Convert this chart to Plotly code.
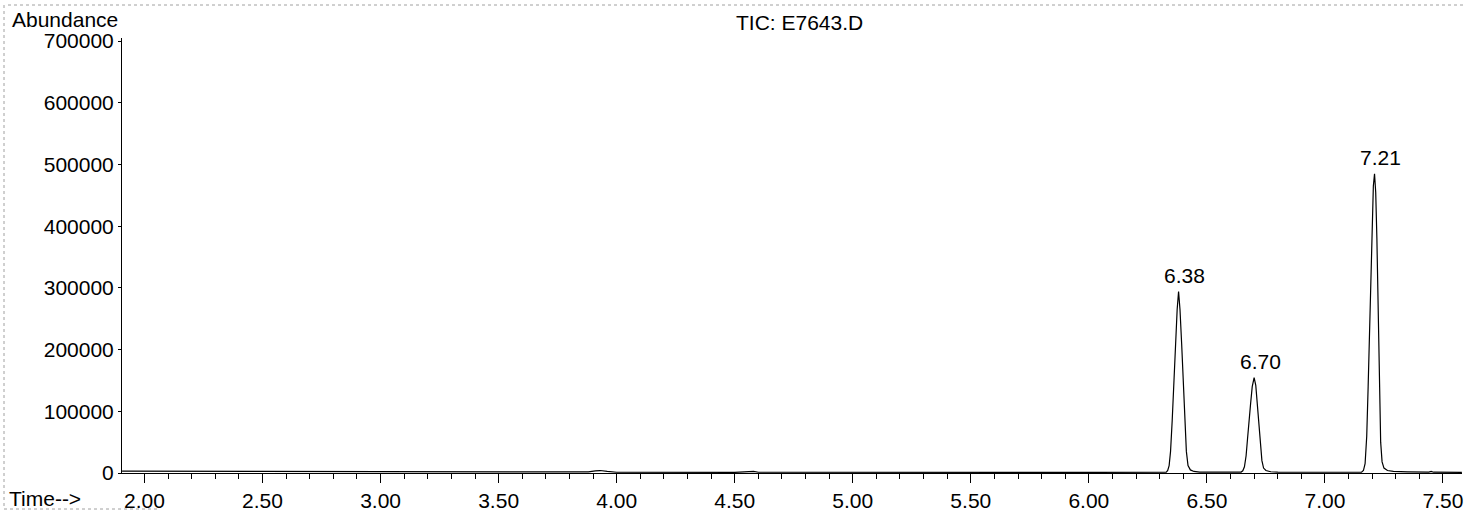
import plotly.graph_objects as go

# ---- data ----
time_min = [
    1.905, 2.00, 2.50, 3.00, 3.50, 3.88, 3.91, 3.93, 3.96, 4.00,
    4.50, 4.56, 4.58, 4.60, 5.00, 5.50, 6.00,
    # peak 6.38
    6.328, 6.334, 6.340, 6.346, 6.353, 6.360, 6.367, 6.374, 6.380, 6.386,
    6.393, 6.400, 6.407, 6.413, 6.420, 6.430, 6.445, 6.470,
    # peak 6.70
    6.645, 6.652, 6.659, 6.666, 6.672, 6.678, 6.685, 6.692, 6.700, 6.707,
    6.714, 6.721, 6.727, 6.733, 6.740, 6.750, 6.770, 6.800,
    # peak 7.21
    7.155, 7.163, 7.170, 7.177, 7.183, 7.189, 7.194, 7.200, 7.205, 7.210,
    7.215, 7.220, 7.226, 7.231, 7.236, 7.242, 7.250, 7.265, 7.290, 7.350,
    7.440, 7.450, 7.460, 7.580,
]
abundance = [
    3000, 2800, 2500, 2200, 2000, 1800, 3500, 4000, 2500, 1200,
    1000, 1300, 2500, 1200, 800, 800, 900,
    1500, 4000, 12000, 35000, 85000, 147000, 210000, 265000, 294000, 265000,
    210000, 147000, 80000, 35000, 12000, 5000, 2500, 1500,
    1500, 3500, 10000, 28000, 55000, 77000, 112000, 140000, 154500, 142000,
    112000, 77000, 45000, 20000, 8000, 4000, 2000, 1500,
    1200, 4000, 15000, 60000, 140000, 240000, 330000, 420000, 465000, 485000,
    455000, 380000, 250000, 130000, 50000, 18000, 8000, 4000, 2500, 1800,
    1400, 2600, 1300, 1000,
]
peak_times = [6.38, 6.70, 7.21]
peak_heights = [294000, 154500, 485000]
peak_labels = ["6.38", "6.70", "7.21"]

y_tickvals = [0, 100000, 200000, 300000, 400000, 500000, 600000, 700000]
x_tickvals = [2.00, 2.50, 3.00, 3.50, 4.00, 4.50, 5.00, 5.50, 6.00, 6.50, 7.00, 7.50]
x_ticktext = ["2.00", "2.50", "3.00", "3.50", "4.00", "4.50", "5.00", "5.50",
              "6.00", "6.50", "7.00", "7.50"]

FONT = "Liberation Sans, Arial, sans-serif"
FS = 21

W, H = 1464, 511
L, R, T, B = 122, 2, 38, 38
pw, ph = W - L - R, H - T - B


def px(xp):
    return (xp - L) / pw


def py(yp):
    return (H - B - yp) / ph


fig = go.Figure()
fig.add_trace(go.Scatter(
    x=time_min, y=abundance, mode="lines",
    line=dict(color="black", width=1.2), hoverinfo="skip", showlegend=False,
))

for t, h, lab in zip(peak_times, peak_heights, peak_labels):
    fig.add_annotation(x=t, y=h, text=lab, showarrow=False,
                       xanchor="center", yanchor="bottom", xshift=6, yshift=3,
                       font=dict(family=FONT, size=FS, color="black"))

fig.add_annotation(x=px(800), y=py(22), xref="paper", yref="paper", text="TIC: E7643.D",
                   showarrow=False, xanchor="center", yanchor="middle",
                   font=dict(family=FONT, size=FS, color="black"))
fig.add_annotation(x=px(10), y=py(20), xref="paper", yref="paper", text="Abundance",
                   showarrow=False, xanchor="left", yanchor="middle",
                   font=dict(family=FONT, size=FS, color="black"))
fig.add_annotation(x=px(7), y=py(498), xref="paper", yref="paper", text="Time-->",
                   showarrow=False, xanchor="left", yanchor="middle",
                   font=dict(family=FONT, size=FS, color="black"))

# faint dotted scan border
fig.add_shape(type="line", xref="paper", yref="paper", x0=px(8), x1=px(1464), y0=py(5), y1=py(5),
              line=dict(color="#a0a0a0", width=1, dash="dot"))
fig.add_shape(type="line", xref="paper", yref="paper", x0=px(4), x1=px(4), y0=py(5), y1=py(509),
              line=dict(color="#a0a0a0", width=1, dash="dot"))
fig.add_shape(type="line", xref="paper", yref="paper", x0=px(4), x1=px(160), y0=py(509), y1=py(509),
              line=dict(color="#a0a0a0", width=1, dash="dot"))

fig.update_layout(
    width=W, height=H,
    margin=dict(l=L, r=R, t=T, b=B, pad=0, autoexpand=False),
    paper_bgcolor="white", plot_bgcolor="white",
    font=dict(family=FONT, size=FS, color="black"),
    xaxis=dict(
        range=[1.9047, 7.5805], automargin=False,
        showline=True, linecolor="black", linewidth=1,
        showgrid=False, zeroline=False,
        tickmode="array", tickvals=x_tickvals, ticktext=x_ticktext,
        ticks="outside", ticklen=9, tickwidth=1, tickcolor="black",
        minor=dict(dtick=0.1, tick0=2.0, ticks="outside", ticklen=5, tickcolor="black", showgrid=False),
        tickfont=dict(family=FONT, size=FS, color="black"),
    ),
    yaxis=dict(
        range=[0, 705000], automargin=False,
        showline=True, linecolor="black", linewidth=1,
        showgrid=False, zeroline=False,
        tickmode="array", tickvals=y_tickvals, ticktext=[str(v) for v in y_tickvals],
        ticks="outside", ticklen=3, tickwidth=1, tickcolor="black",
        tickfont=dict(family=FONT, size=FS, color="black"),
    ),
)

fig.write_html(
    "out.html",
    config={"displayModeBar": False},
    post_script="document.body.style.margin='0';document.body.style.overflow='hidden';",
)
